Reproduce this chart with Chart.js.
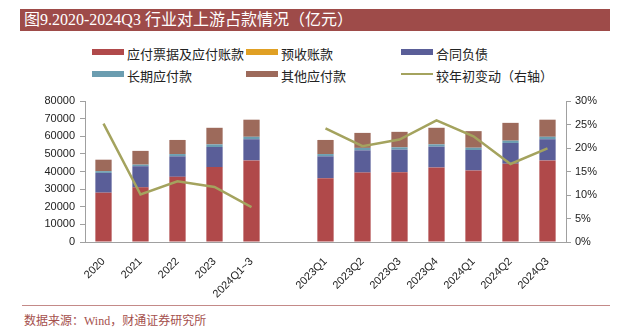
<!DOCTYPE html>
<html>
<head>
<meta charset="utf-8">
<script src="https://cdn.jsdelivr.net/npm/chart.js@4/dist/chart.umd.min.js"></script>
<style>
    html, body { margin: 0; padding: 0; background: #fff; }
    #page { position: relative; width: 621px; height: 332px; overflow: hidden; }
    .title-bar {
        position: absolute; left: 20px; top: 9px; width: 590px; height: 22px;
        background: #9e4b49; color: #fff;
        font: 16px "Liberation Serif", "Noto Sans CJK SC", serif;
        line-height: 22px; padding-left: 4px; box-sizing: border-box; white-space: nowrap;
    }
    .legend-item {
        position: absolute; height: 16px; line-height: 16px; white-space: nowrap;
        font: 13px "Liberation Sans", "Noto Sans CJK SC", sans-serif; color: #222;
    }
    .legend-item i { position: absolute; left: 0; width: 32px; }
    .legend-item span { position: absolute; left: 35px; top: 0; }
    #chartBox { position: absolute; left: 0; top: 85px; width: 621px; height: 225px; }
    .source-line { position: absolute; left: 22px; top: 305px; width: 588px; height: 1px; background: #c48a88; }
    .source {
        position: absolute; left: 24px; top: 311px;
        font: 12px "Liberation Serif", "Noto Sans CJK SC", serif; color: #a5504d;
    }
</style>
</head>
<body>
<div id="page">
    <div class="title-bar">图9.2020-2024Q3 行业对上游占款情况（亿元）</div>
    <div id="legend"></div>
    <div id="chartBox"><canvas id="upstreamChart"></canvas></div>
    <div class="source-line"></div>
    <div class="source">数据来源：Wind，财通证券研究所</div>
</div>
<script>
// periods (the blank one splits annual and quarterly groups)
var periods = ['2020', '2021', '2022', '2023', '2024Q1~3', '',
    '2023Q1', '2023Q2', '2023Q3', '2023Q4', '2024Q1', '2024Q2', '2024Q3'];

// 亿元
var notesAndPayables = [28000, 31000, 37000, 42500, 46300, null, 36200, 39400, 39600, 42300, 40600, 44400, 46300];
var advanceReceipts = [0, 0, 0, 0, 0, null, 0, 0, 0, 0, 0, 0, 0];
var contractLiabilities = [11200, 12000, 11600, 11400, 12000, null, 12400, 12600, 12800, 11800, 11600, 11800, 12000];
var longTermPayables = [1000, 900, 1300, 1500, 1400, null, 1300, 1400, 1300, 1300, 1300, 1300, 1400];
var otherPayables = [6500, 7800, 8000, 9400, 9700, null, 8000, 8500, 8800, 9400, 9400, 10100, 9700];

// % change vs start of year (right axis)
var changeFromYearStart = [25.2, 10.1, 12.9, 11.7, 7.4, null, 24.2, 20.4, 21.8, 25.9, 22.5, 16.6, 19.9];

var tickFont = { family: '"Liberation Sans", "Noto Sans CJK SC", sans-serif', size: 11 };

function barSet(label, data, color) {
    return {
        type: 'bar',
        label: label,
        data: data,
        backgroundColor: color,
        borderWidth: 0,
        barPercentage: 0.44,
        categoryPercentage: 1,
        yAxisID: 'y',
        order: 1
    };
}

var upstreamChart = new Chart(document.getElementById('upstreamChart'), {
    data: {
        labels: periods,
        datasets: [
            barSet('应付票据及应付账款', notesAndPayables, '#b0494a'),
            barSet('预收账款', advanceReceipts, '#e0a024'),
            barSet('合同负债', contractLiabilities, '#5a5e98'),
            barSet('长期应付款', longTermPayables, '#6b9db0'),
            barSet('其他应付款', otherPayables, '#9d6a5b'),
            {
                type: 'line',
                label: '较年初变动（右轴）',
                data: changeFromYearStart,
                borderColor: '#a4a35e',
                backgroundColor: '#a4a35e',
                borderWidth: 2.5,
                pointRadius: 0,
                tension: 0,
                spanGaps: false,
                yAxisID: 'y1',
                order: 0
            }
        ]
    },
    options: {
        responsive: true,
        maintainAspectRatio: false,
        animation: false,
        layout: { padding: { top: 16, left: 0, right: 0, bottom: 0 } },
        plugins: {
            legend: { display: false },
            tooltip: { enabled: false }
        },
        scales: {
            x: {
                stacked: true,
                grid: { display: false },
                border: { color: '#a0a0a0' },
                ticks: {
                    color: '#222',
                    font: tickFont,
                    minRotation: 45,
                    maxRotation: 45,
                    autoSkip: false,
                    padding: 5
                },
                afterFit: function (scale) { scale.height = 68; }
            },
            y: {
                stacked: true,
                position: 'left',
                min: 0,
                max: 80000,
                grid: { drawOnChartArea: false, tickLength: 5, tickColor: '#a0a0a0' },
                border: { color: '#a0a0a0' },
                ticks: {
                    stepSize: 10000,
                    color: '#222',
                    font: tickFont,
                    padding: 5,
                    callback: function (value) { return String(value); }
                },
                afterFit: function (scale) { scale.width = 85; }
            },
            y1: {
                position: 'right',
                min: 0,
                max: 30,
                grid: { drawOnChartArea: false, tickLength: 5, tickColor: '#a0a0a0' },
                border: { color: '#a0a0a0' },
                ticks: {
                    stepSize: 5,
                    color: '#222',
                    font: tickFont,
                    padding: 4,
                    callback: function (value) { return value + '%'; }
                },
                afterFit: function (scale) { scale.width = 55; }
            }
        }
    }
});

// three-column legend built from the chart's own datasets
var legendSpots = [[92, 44], [246, 44], [401, 44], [92, 66], [246, 66], [401, 66]];
var legendBox = document.getElementById('legend');
upstreamChart.data.datasets.forEach(function (ds, i) {
    var item = document.createElement('div');
    item.className = 'legend-item';
    item.style.left = legendSpots[i][0] + 'px';
    item.style.top = legendSpots[i][1] + 'px';
    var swatch = document.createElement('i');
    swatch.style.background = ds.type === 'line' ? ds.borderColor : ds.backgroundColor;
    swatch.style.height = ds.type === 'line' ? '2px' : '6px';
    swatch.style.top = ds.type === 'line' ? '7px' : '5px';
    var text = document.createElement('span');
    text.textContent = ds.label;
    item.appendChild(swatch);
    item.appendChild(text);
    legendBox.appendChild(item);
});
</script>
</body>
</html>
